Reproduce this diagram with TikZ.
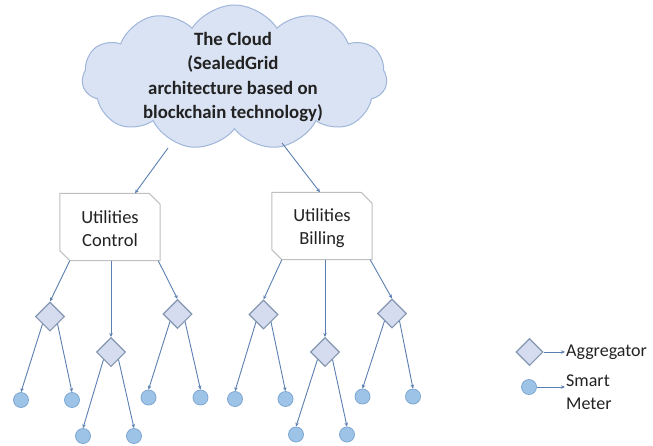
\documentclass[tikz,border=0pt]{standalone}
\usepackage{fontspec}
\setmainfont{Carlito}
\usetikzlibrary{shapes.geometric,shapes.symbols,arrows.meta}
\definecolor{cloudfill}{HTML}{DAE3F3}
\definecolor{cloudline}{HTML}{9FB6DA}
\definecolor{boxline}{HTML}{BFBFBF}
\definecolor{connc}{HTML}{5B7FB0}
\definecolor{aggfill}{HTML}{D6DCF0}
\definecolor{aggline}{HTML}{8496B0}
\definecolor{mfill}{HTML}{9DC3E6}
\definecolor{mline}{HTML}{7FA7D4}
\definecolor{txt}{HTML}{222222}
\tikzset{
  conn/.style={draw=connc, line width=0.9pt, -{Stealth[length=4pt,width=3.5pt]}},
  agg/.style={diamond, draw=aggline, fill=aggfill, line width=1.1pt, minimum width=29pt, minimum height=29pt, inner sep=0pt},
  meter/.style={circle, draw=mline, fill=mfill, line width=0.8pt, minimum size=15pt, inner sep=0pt},
  utilbox/.style={minimum width=100pt, minimum height=67pt, inner sep=0pt, align=center, text=txt, font=\fontsize{18.5}{23}\selectfont},
  boxedge/.style={draw=boxline, fill=white, line width=1pt},
  legtext/.style={anchor=west, inner sep=1pt, align=left, text=txt, font=\fontsize{18}{23}\selectfont}
}
\begin{document}
\begin{tikzpicture}[x=1pt,y=-1pt]
\useasboundingbox (0,0) rectangle (653,445);
% cloud
\node[cloud, cloud puffs=11, cloud puff arc=115, aspect=2.1, draw=cloudline, fill=cloudfill, line width=1pt,
      minimum width=305pt, minimum height=145pt, inner sep=0pt] (cloud) at (234.5,77.5) {};
\node[align=center, text=txt, font=\bfseries\fontsize{18.8}{24.5}\selectfont] (cloudtext) at (233,77)
  {The Cloud\\(SealedGrid\\architecture based on\\blockchain technology)};
\coordinate (cl1) at (168,148);
\coordinate (cl2) at (282,143);
% utility boxes
\node[utilbox] (ctrl) at (110,227) {};
\node[utilbox] (bill) at (322,226) {};
\path[boxedge] (ctrl.north west) -- ([xshift=-11pt]ctrl.north east) -- ([yshift=-11pt]ctrl.north east)
  -- (ctrl.south east) -- ([xshift=10pt]ctrl.south west) -- ([yshift=10pt]ctrl.south west) -- cycle;
\path[boxedge] (bill.north west) -- ([xshift=-11pt]bill.north east) -- ([yshift=-11pt]bill.north east)
  -- (bill.south east) -- ([xshift=10pt]bill.south west) -- ([yshift=10pt]bill.south west) -- cycle;
\node[utilbox] (ctrlt) at ([yshift=-2pt]ctrl) {Utilities\\Control};
\node[utilbox] (billt) at ([yshift=-2pt]bill) {Utilities\\Billing};
\draw[conn] (cl1) -- ([xshift=25pt]ctrl.north);
\draw[conn] (cl2) -- ([xshift=-2pt]bill.north);
% aggregators
\node[agg] (d1) at (50,316.5) {};
\node[agg] (d2) at (111,352) {};
\node[agg] (d3) at (177.5,314) {};
\node[agg] (d4) at (263.5,314.5) {};
\node[agg] (d5) at (325,352) {};
\node[agg] (d6) at (392,313.5) {};
% meters
\node[meter] (c1) at (21,400) {};
\node[meter] (c2) at (72,400) {};
\node[meter] (c3) at (83,436) {};
\node[meter] (c4) at (134,436) {};
\node[meter] (c5) at (148.5,397.5) {};
\node[meter] (c6) at (200.5,397.5) {};
\node[meter] (c7) at (235,399) {};
\node[meter] (c8) at (285.5,399) {};
\node[meter] (c9) at (296,434.5) {};
\node[meter] (c10) at (347,434.5) {};
\node[meter] (c11) at (362.5,396.5) {};
\node[meter] (c12) at (413,396.5) {};
% box -> aggregators
\draw[conn] ([xshift=10pt]ctrl.south west) -- (d1.north);
\draw[conn] ([xshift=1pt]ctrl.south) -- (d2.north);
\draw[conn] ([xshift=-2pt]ctrl.south east) -- (d3.north);
\draw[conn] ([xshift=10pt]bill.south west) -- (d4.north);
\draw[conn] ([xshift=3pt]bill.south) -- (d5.north);
\draw[conn] ([xshift=-2pt]bill.south east) -- (d6.north);
% aggregators -> meters
\draw[conn] (d1.south west) -- (c1.north);
\draw[conn] (d1.south east) -- (c2.north);
\draw[conn] (d2.south west) -- (c3.north);
\draw[conn] (d2.south east) -- (c4.north);
\draw[conn] (d3.south west) -- (c5.north);
\draw[conn] (d3.south east) -- (c6.north);
\draw[conn] (d4.south west) -- (c7.north);
\draw[conn] (d4.south east) -- (c8.north);
\draw[conn] (d5.south west) -- (c9.north);
\draw[conn] (d5.south east) -- (c10.north);
\draw[conn] (d6.south west) -- (c11.north);
\draw[conn] (d6.south east) -- (c12.north);
% legend
\node[agg, minimum width=27pt, minimum height=27pt] (lagg) at (529.5,352) {};
\node[legtext] (laggt) at (565,352) {Aggregator};
\draw[conn] (lagg.east) -- (laggt.west);
\node[meter] (lmet) at (529,387) {};
\node[legtext] (lmett) at (565,392) {Smart\\Meter};
\draw[conn] (lmet.east) -- (lmet.east -| lmett.west);
\end{tikzpicture}
\end{document}
